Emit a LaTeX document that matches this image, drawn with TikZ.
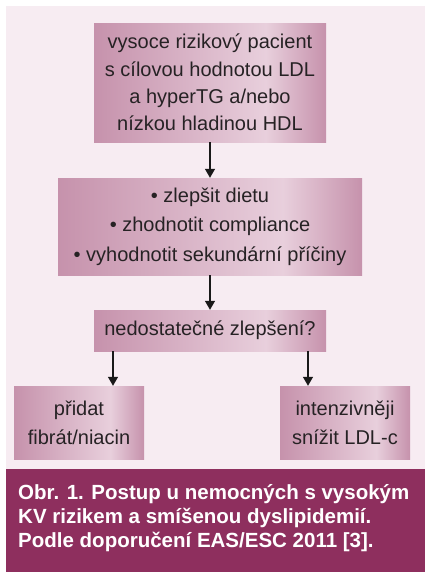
\documentclass[tikz,border=0pt]{standalone}
\usepackage{fontspec}
\setmainfont{Liberation Sans}
\usetikzlibrary{arrows.meta}
\definecolor{bgpink}{RGB}{247,236,242}
\definecolor{band}{RGB}{142,47,94}
\definecolor{dk}{RGB}{198,146,172}
\definecolor{lt}{RGB}{232,207,220}
\definecolor{txt}{RGB}{38,34,36}
\pgfdeclarehorizontalshading{boxshade}{100bp}{color(0bp)=(dk); color(25bp)=(dk); color(62bp)=(lt); color(75bp)=(dk); color(100bp)=(dk)}
\begin{document}
\begin{tikzpicture}[x=1pt,y=-1pt,
  box/.style={shading=boxshade, draw=none, inner sep=0pt, align=center, text=txt},
  arr/.style={-{Triangle[width=10pt,length=9pt]}, line width=1.3pt, draw=black!90},
  captxt/.style={anchor=base west, inner sep=0pt, text=white, font=\bfseries\fontsize{20.5}{24}\selectfont}]
\useasboundingbox (0,0) rectangle (425,574);
\fill[bgpink] (6,6) rectangle (425,469);
\fill[band] (6,469) rectangle (425,572);

\node[box, minimum width=232pt, minimum height=119pt, font=\fontsize{20}{27.3}\selectfont] (b1) at (210,82.5)
  {vysoce rizikový pacient\\s cílovou hodnotou LDL\\a hyperTG a/nebo\\nízkou hladinou HDL};
\node[box, minimum width=304pt, minimum height=97pt, font=\fontsize{20}{29.5}\selectfont] (b2) at (210,226.5)
  {• zlepšit dietu\\• zhodnotit compliance\\• vyhodnotit sekundární příčiny};
\node[box, minimum width=232pt, minimum height=41pt, font=\fontsize{20}{27}\selectfont] (b3) at (210,330.5)
  {nedostatečné zlepšení?};
\node[box, minimum width=130pt, minimum height=73pt, font=\fontsize{20}{29}\selectfont] (b4) at (79,422.5)
  {přidat\\fibrát/niacin};
\node[box, minimum width=130pt, minimum height=73pt, font=\fontsize{20}{29}\selectfont] (b5) at (345,422.5)
  {intenzivněji\\snížit LDL-c};

\coordinate (xl) at (113,0);
\coordinate (xr) at (308,0);
\draw[arr] (b1) -- (b2);
\draw[arr] (b2) -- (b3);
\draw[arr] (b3.south -| xl) -- (b4.north -| xl);
\draw[arr] (b3.south -| xr) -- (b5.north -| xr);

\node[captxt] (c1) at (18,499) {Obr. 1. Postup u nemocných s vysokým};
\node[captxt] (c2) at (18,523) {KV rizikem a smíšenou dyslipidemií.};
\node[captxt] (c3) at (18,547) {Podle doporučení EAS/ESC 2011 [3].};
\end{tikzpicture}
\end{document}
